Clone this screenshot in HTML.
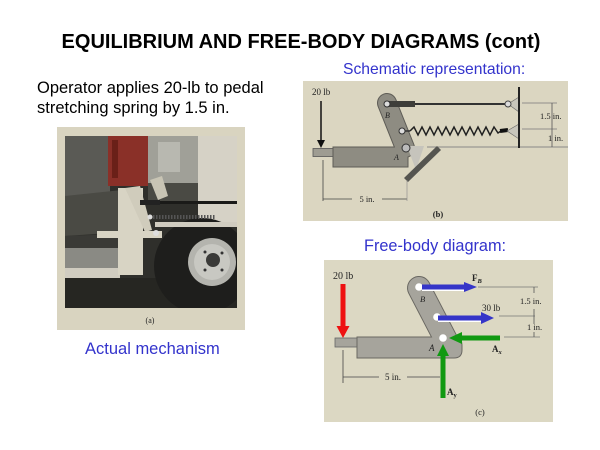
<!DOCTYPE html>
<html><head><meta charset="utf-8"><style>
html,body{margin:0;padding:0;background:#fff;}
svg{display:block;}
</style></head><body>
<svg width="600" height="450" viewBox="0 0 600 450" xmlns="http://www.w3.org/2000/svg">
<defs><clipPath id="ph"><rect x="65" y="136" width="172" height="172"/></clipPath></defs>
<rect width="600" height="450" fill="#fff"/>
<!-- Title -->
<text x="301" y="48" text-anchor="middle" font-family="Liberation Sans, sans-serif" font-weight="bold" font-size="20" fill="#000">EQUILIBRIUM AND FREE-BODY DIAGRAMS (cont)</text>
<text x="37" y="93" font-family="Liberation Sans, sans-serif" font-size="16.5" fill="#000">Operator applies 20-lb to pedal</text>
<text x="37" y="113" font-family="Liberation Sans, sans-serif" font-size="16.5" fill="#000">stretching spring by 1.5 in.</text>
<text x="343" y="74" font-family="Liberation Sans, sans-serif" font-size="15.7" fill="#3333cc">Schematic representation:</text>
<text x="364" y="251" font-family="Liberation Sans, sans-serif" font-size="16.3" fill="#3333cc">Free-body diagram:</text>
<text x="85" y="354" font-family="Liberation Sans, sans-serif" font-size="16.5" fill="#3333cc">Actual mechanism</text>

<!-- PHOTO -->
<rect x="57" y="127" width="188" height="203" fill="#d9d4c0"/>
<g clip-path="url(#ph)">
<rect x="65" y="136" width="172" height="172" fill="#2f2f2b"/>
<rect x="65" y="136" width="45" height="60" fill="#5a5a55"/>
<path d="M65 196 L122 190 L125 232 L65 236 Z" fill="#4a4a44"/>
<path d="M65 236 L120 234 L120 248 L65 250 Z" fill="#3a3a36"/>
<rect x="108" y="136" width="40" height="50" fill="#8a3028"/>
<rect x="112" y="140" width="6" height="38" fill="#6a2018"/>
<rect x="148" y="136" width="50" height="47" fill="#a0a098"/>
<rect x="158" y="142" width="22" height="30" fill="#b8b8b0"/>
<rect x="198" y="136" width="39" height="86" fill="#d6d2c6"/>
<rect x="148" y="183" width="50" height="18" fill="#4a4a44"/>
<path d="M150 180 L162 176 L168 196 L158 200 Z" fill="#c8c4b4"/>
<rect x="65" y="248" width="55" height="20" fill="#8a8a84"/>
<rect x="65" y="268" width="55" height="10" fill="#d0ccc0"/>
<rect x="65" y="278" width="172" height="30" fill="#262622"/>
<circle cx="202" cy="266" r="48" fill="#1e1e1c"/>
<rect x="155" y="222" width="82" height="5" fill="#d0ccc0"/>
<circle cx="212" cy="262" r="24" fill="#b4b4ae"/>
<circle cx="212" cy="262" r="18" fill="#c8c8c2"/>
<circle cx="213" cy="260" r="7" fill="#3a3a38"/>
<circle cx="205" cy="252" r="1.5" fill="#333"/><circle cx="222" cy="253" r="1.5" fill="#333"/><circle cx="205" cy="270" r="1.5" fill="#333"/><circle cx="222" cy="270" r="1.5" fill="#333"/>
<rect x="118" y="188" width="25" height="87" fill="#d8d4c4"/>
<path d="M125 188 L140 186 L152 230 L145 232 Z" fill="#d0ccbc"/>
<rect x="97" y="231" width="65" height="7" fill="#d8d4c4"/>
<rect x="140" y="201" width="97" height="3" fill="#1a1a18"/>
<rect x="140" y="200" width="20" height="5" fill="#222"/>
<path d="M150 217 L215 217" stroke="#555" stroke-width="4" stroke-dasharray="1.5 1.5"/>
<circle cx="150" cy="217" r="2.5" fill="#ddd"/>
<circle cx="156" cy="233" r="3" fill="#ddd"/>
</g>
<text x="150" y="323" text-anchor="middle" font-family="Liberation Serif, serif" font-size="8" fill="#222">(a)</text>

<!-- SCHEMATIC -->
<rect x="303" y="81" width="265" height="140" fill="#dbd6c1"/>
<text x="312" y="95" font-family="Liberation Serif, serif" font-size="9" fill="#222">20 lb</text>
<line x1="321" y1="101" x2="321" y2="141" stroke="#111" stroke-width="1.5"/>
<polygon points="317,140 325,140 321,148" fill="#111"/>
<line x1="427" y1="147" x2="568" y2="147" stroke="#888" stroke-width="1"/>
<g stroke="#5e5c56" stroke-width="20" stroke-linecap="round">
<line x1="387" y1="103" x2="405" y2="148"/>
</g>
<rect x="313" y="148.5" width="21" height="8" fill="#9e9c92" stroke="#555" stroke-width="0.8"/>
<rect x="333" y="147" width="75" height="20" fill="#8e8c82" stroke="#5e5c56" stroke-width="1"/>
<g stroke="#8e8c82" stroke-width="18" stroke-linecap="round">
<line x1="387" y1="103" x2="405" y2="148"/>
</g>
<rect x="334" y="148" width="72" height="18" fill="#8e8c82"/>
<polygon points="407,146 424,146 416,170" fill="#c6c4bc"/>
<polygon points="404,178 437,146 441,150 408,182" fill="#555550"/>
<line x1="415" y1="104" x2="508" y2="104" stroke="#333" stroke-width="2"/>
<rect x="387" y="101" width="28" height="6" fill="#3e3e3a"/>
<polygon points="508,104 519,97 519,112" fill="#c8c6bc" stroke="#666" stroke-width="0.6"/>
<circle cx="508" cy="104" r="3" fill="#ddd" stroke="#444" stroke-width="1"/>
<line x1="402" y1="131" x2="410" y2="131" stroke="#333" stroke-width="1.5"/>
<polyline points="410,131 414,127 418,135 422,127 426,135 430,127 434,135 438,127 442,135 446,127 450,135 454,127 458,135 462,127 466,135 470,127 474,135 478,127 482,135 486,127 490,135 494,127 498,133 501,131" fill="none" stroke="#222" stroke-width="1.5"/>
<line x1="500" y1="131" x2="508" y2="130" stroke="#111" stroke-width="4"/>
<polygon points="507,131 519,124 519,139" fill="#c8c6bc" stroke="#666" stroke-width="0.6"/>
<circle cx="387" cy="104" r="3" fill="#ddd" stroke="#333" stroke-width="1"/>
<circle cx="402" cy="131" r="3" fill="#ddd" stroke="#333" stroke-width="1"/>
<circle cx="406" cy="148" r="4" fill="#bbb" stroke="#333" stroke-width="1"/>
<line x1="519" y1="87" x2="519" y2="148" stroke="#222" stroke-width="2"/>
<text x="385" y="118" font-family="Liberation Serif, serif" font-style="italic" font-size="8" fill="#222">B</text>
<text x="394" y="160" font-family="Liberation Serif, serif" font-style="italic" font-size="8" fill="#222">A</text>
<line x1="522" y1="103" x2="557" y2="103" stroke="#777" stroke-width="0.8"/>
<line x1="522" y1="129" x2="557" y2="129" stroke="#777" stroke-width="0.8"/>
<line x1="552" y1="103" x2="552" y2="147" stroke="#555" stroke-width="0.8"/>
<text x="540" y="119" font-family="Liberation Serif, serif" font-size="8.5" fill="#222">1.5 in.</text>
<text x="548" y="141" font-family="Liberation Serif, serif" font-size="8.5" fill="#222">1 in.</text>
<line x1="323" y1="160" x2="323" y2="201" stroke="#444" stroke-width="0.8"/>
<line x1="323" y1="199" x2="352" y2="199" stroke="#444" stroke-width="0.8"/>
<line x1="382" y1="199" x2="407" y2="199" stroke="#444" stroke-width="0.8"/>
<line x1="407" y1="180" x2="407" y2="201" stroke="#888" stroke-width="0.6"/>
<text x="367" y="202" text-anchor="middle" font-family="Liberation Serif, serif" font-size="8.5" fill="#222">5 in.</text>
<text x="438" y="217" text-anchor="middle" font-family="Liberation Serif, serif" font-weight="bold" font-size="8.5" fill="#222">(b)</text>

<!-- FREE BODY -->
<rect x="324" y="260" width="229" height="162" fill="#dcd8c3"/>
<text x="333" y="279" font-family="Liberation Serif, serif" font-size="10" fill="#222">20 lb</text>
<rect x="340.5" y="284" width="5" height="43" fill="#ee1111"/>
<polygon points="336.5,326 349.5,326 343,338" fill="#ee1111"/>
<rect x="335" y="338" width="23" height="9" fill="#a6a49c" stroke="#666" stroke-width="0.8"/>
<g stroke="#6a6862" stroke-width="24" stroke-linecap="round">
<line x1="419" y1="288" x2="446" y2="340"/>
</g>
<path d="M357 337 H455 Q462 337 462 346 V350 Q462 358 454 358 H357 Z" fill="#a6a49c" stroke="#6a6862" stroke-width="1"/>
<g stroke="#a6a49c" stroke-width="22" stroke-linecap="round">
<line x1="419" y1="288" x2="446" y2="340"/>
</g>
<rect x="358" y="338" width="96" height="19" fill="#a6a49c"/>
<circle cx="419" cy="287" r="3.8" fill="#fff"/>
<circle cx="437" cy="317" r="3.8" fill="#fff"/>
<circle cx="443" cy="338" r="3.8" fill="#fff"/>
<text x="420" y="302" font-family="Liberation Serif, serif" font-style="italic" font-size="8.5" fill="#222">B</text>
<text x="429" y="351" font-family="Liberation Serif, serif" font-style="italic" font-size="9" fill="#222">A</text>
<rect x="422" y="289" width="44" height="2" fill="#fff"/>
<rect x="422" y="284.5" width="44" height="5" fill="#3535c8"/>
<polygon points="464,282 477,287 464,292" fill="#3535c8"/>
<rect x="438" y="320" width="44" height="2" fill="#fff"/>
<rect x="438" y="315.5" width="45" height="5" fill="#3535c8"/>
<polygon points="481,312 494,318 481,324" fill="#3535c8"/>
<text x="472" y="281" font-family="Liberation Serif, serif" font-weight="bold" font-size="9" fill="#222">F<tspan font-size="6.5" font-style="italic" dy="2">B</tspan></text>
<text x="482" y="311" font-family="Liberation Serif, serif" font-size="9" fill="#222">30 lb</text>
<rect x="461" y="335.5" width="39" height="5" fill="#119911"/>
<polygon points="462,332 449,338 462,344" fill="#119911"/>
<rect x="440.5" y="355" width="5" height="43" fill="#119911"/>
<polygon points="437,356 449,356 443,344" fill="#119911"/>
<text x="492" y="352" font-family="Liberation Serif, serif" font-weight="bold" font-size="9" fill="#222">A<tspan font-size="6.5" font-style="italic" dy="2">x</tspan></text>
<text x="447" y="395" font-family="Liberation Serif, serif" font-weight="bold" font-size="9" fill="#222">A<tspan font-size="6.5" dy="2">y</tspan></text>
<line x1="478" y1="287" x2="538" y2="287" stroke="#777" stroke-width="0.8"/>
<line x1="499" y1="316" x2="535" y2="316" stroke="#777" stroke-width="0.8"/>
<line x1="504" y1="337" x2="540" y2="337" stroke="#777" stroke-width="0.8"/>
<line x1="534" y1="287" x2="534" y2="293" stroke="#555" stroke-width="0.8"/>
<line x1="534" y1="309" x2="534" y2="324" stroke="#555" stroke-width="0.8"/>
<line x1="534" y1="332" x2="534" y2="337" stroke="#555" stroke-width="0.8"/>
<text x="520" y="304" font-family="Liberation Serif, serif" font-size="8.5" fill="#222">1.5 in.</text>
<text x="527" y="330" font-family="Liberation Serif, serif" font-size="8.5" fill="#222">1 in.</text>
<line x1="343" y1="350" x2="343" y2="383" stroke="#444" stroke-width="0.8"/>
<line x1="343" y1="377" x2="379" y2="377" stroke="#444" stroke-width="0.8"/>
<line x1="407" y1="377" x2="440" y2="377" stroke="#444" stroke-width="0.8"/>
<text x="393" y="380" text-anchor="middle" font-family="Liberation Serif, serif" font-size="9" fill="#222">5 in.</text>
<text x="480" y="415" text-anchor="middle" font-family="Liberation Serif, serif" font-size="8.5" fill="#222">(c)</text>
</svg>
</body></html>
